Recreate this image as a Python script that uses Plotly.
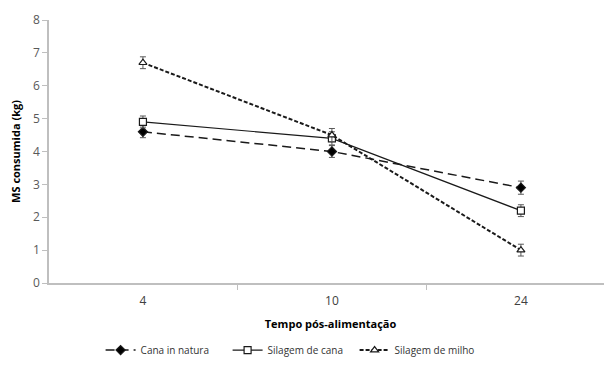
import plotly.graph_objects as go

categories = ["4", "10", "24"]
cana_natura = [4.6, 4.0, 2.9]
silagem_cana = [4.9, 4.4, 2.2]
silagem_milho = [6.7, 4.5, 1.0]
err_natura = [0.18, 0.18, 0.2]
err_cana = [0.18, 0.2, 0.18]
err_milho = [0.18, 0.2, 0.18]

fig = go.Figure()

def add(name, y, err, symbol, dash, width, fill, size):
    fig.add_trace(go.Scatter(
        x=categories, y=y, name=name, mode="lines+markers",
        line=dict(color="#1a1a1a", width=width, dash=dash),
        marker=dict(symbol=symbol, size=size,
                    color=fill, line=dict(color="#1a1a1a", width=1.2)),
        error_y=dict(type="data", array=err, visible=True,
                     color="#595959", thickness=1, width=3),
    ))

add("Cana in natura", cana_natura, err_natura, "diamond", "9px,5px", 1.5, "#000000", 7)
add("Silagem de cana", silagem_cana, err_cana, "square", "solid", 1.2, "#ffffff", 7)
add("Silagem de milho", silagem_milho, err_milho, "triangle-up", "4px,2px", 2, "#ffffff", 7)

# page body has an 8px margin, so the figure is offset by (8, 8)
fig.update_layout(
    width=604, height=357,
    margin=dict(l=41, r=0, t=12, b=80),
    paper_bgcolor="white", plot_bgcolor="white",
    font=dict(family="Open Sans, Liberation Sans, sans-serif", size=11, color="#595959"),
    showlegend=True,
    legend=dict(orientation="h", x=0.43, xanchor="center", y=-0.2, yanchor="top",
                font=dict(size=10, color="#333333"), tracegroupgap=0,
                entrywidth=82, entrywidthmode="pixels"),
    xaxis=dict(
        type="category", range=[-0.497, 2.482], automargin=False,
        showline=True, linecolor="#bfbfbf", linewidth=1.5,
        ticks="outside", tickson="boundaries", ticklen=5, tickcolor="#bfbfbf",
        ticklabelstandoff=6,
        showgrid=False, zeroline=False,
        tickfont=dict(size=12, color="#404040"),
        title=dict(text="<b>Tempo pós-alimentação</b>", font=dict(size=11, color="#000000"), standoff=12),
    ),
    yaxis=dict(
        range=[0, 8], dtick=1, automargin=False,
        showline=True, linecolor="#bfbfbf", linewidth=1.5,
        ticks="outside", ticklen=5, tickcolor="#bfbfbf",
        showgrid=False, zeroline=False,
        tickfont=dict(size=12, color="#595959"),
        title=dict(text="<b>MS consumida (kg)</b>", font=dict(size=11, color="#000000"), standoff=11),
    ),
)

fig.write_html("out.html")
